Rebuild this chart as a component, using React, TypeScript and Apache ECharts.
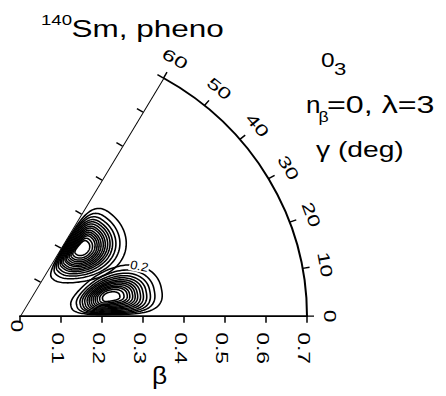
import { useEffect, useRef } from "react";
import * as echarts from "echarts";

const FONT = "'Liberation Sans', Arial, Helvetica, sans-serif";

// β (radius) axis
const betaTicks = [0, 0.1, 0.2, 0.3, 0.4, 0.5, 0.6, 0.7];
const betaTickLabels = ["0", "0.1", "0.2", "0.3", "0.4", "0.5", "0.6", "0.7"];
// γ (angle, degrees) axis
const gammaTicks = [0, 10, 20, 30, 40, 50, 60];
const gammaTickLabels = ["0", "10", "20", "30", "40", "50", "60"];
// β ticks along the γ = 60° edge
const edgeTicks = [0.1, 0.2, 0.3, 0.4, 0.5, 0.6, 0.7];

// contour levels, outermost ring first
const contourLevels = [0.2, 0.4, 0.6, 0.8, 1.0, 1.2, 1.4, 1.6, 1.8, 2.0, 2.2, 2.4, 2.6, 2.8];

// maximum near γ ≈ 12°: peak [β, γ] and each ring's β / γ extent
const lowPeak = [0.225, 12.4];
const lowBetaMin = [0.127, 0.141, 0.15, 0.156, 0.162, 0.168, 0.173, 0.178, 0.183, 0.188, 0.193, 0.199, 0.206];
const lowBetaMax = [0.352, 0.334, 0.323, 0.314, 0.306, 0.299, 0.292, 0.286, 0.28, 0.273, 0.267, 0.259, 0.249];
const lowGammaMin = [1.0, 1.6, 2.2, 2.8, 3.5, 4.2, 4.9, 5.6, 6.4, 7.2, 8.0, 8.9, 9.9];
const lowGammaMax = [29.0, 26.7, 25.2, 24.0, 23.0, 22.0, 21.2, 20.4, 19.5, 18.7, 17.9, 16.9, 15.6];

// maximum near γ ≈ 49°
const highPeak = [0.229, 48.9];
const highBetaMin = [0.124, 0.138, 0.147, 0.154, 0.161, 0.166, 0.171, 0.177, 0.181, 0.186, 0.191, 0.196, 0.202, 0.209];
const highBetaMax = [0.342, 0.327, 0.317, 0.309, 0.303, 0.297, 0.291, 0.286, 0.28, 0.275, 0.27, 0.265, 0.258, 0.251];
const highGammaMin = [27.0, 30.0, 31.8, 33.4, 34.7, 35.8, 36.9, 37.9, 38.9, 39.9, 40.9, 42.0, 43.2, 44.7];
const highGammaMax = [59.1, 58.5, 58.0, 57.4, 56.8, 56.2, 55.6, 55.0, 54.4, 53.8, 53.2, 52.6, 52.0, 51.4];

// which ring carries its level as a label, and where on the ring (degrees of its parameter)
const labelledRing = { side: -1, level: 0.2, at: 43 };

// side: -1 → the ring hugs the γ = 0 edge, +1 → it hugs the γ = 60° edge
function ringsOf(peak: number[], bMin: number[], bMax: number[], gMin: number[], gMax: number[], side: number) {
  return bMin.map((_, k) => [peak[0], peak[1], contourLevels[k], bMin[k], bMax[k], gMin[k], gMax[k], side]);
}

const ringData = [
  ...ringsOf(lowPeak, lowBetaMin, lowBetaMax, lowGammaMin, lowGammaMax, -1),
  ...ringsOf(highPeak, highBetaMin, highBetaMax, highGammaMin, highGammaMax, 1),
];

const SQUASH = 0.958;
const W = 446;
const H = Math.ceil(396 / SQUASH);

function ringPoint(d: number[], t: number) {
  const [b0, g0, , bLo, bHi, gLo, gHi, side] = d;
  const c = Math.cos(t);
  const s = Math.sin(t);
  const towardEdge = side < 0 ? s < 0 : s > 0;
  const e = towardEdge ? 0.62 : 1;
  const cc = Math.sign(c) * Math.pow(Math.abs(c), e);
  const ss = Math.sign(s) * Math.pow(Math.abs(s), e);
  const b = b0 + (c >= 0 ? bHi - b0 : b0 - bLo) * cc;
  const g = g0 + (s >= 0 ? gHi - g0 : g0 - gLo) * ss;
  return [b, g];
}

const label = (t: string, x: number, y: number, size: number, sx: number, align = "left") => ({
  type: "text",
  x,
  y,
  scaleX: sx,
  scaleY: 1,
  style: { text: t, fontSize: size, fontFamily: FONT, fill: "#000", align, verticalAlign: "middle" },
});

export default function App() {
  const ref = useRef<HTMLDivElement>(null);

  useEffect(() => {
    if (!ref.current) return;
    const chart = echarts.init(ref.current, null, { renderer: "svg" });

    chart.setOption({
      animation: false,
      polar: { center: [20, 330], radius: [0, 287] },
      angleAxis: {
        type: "value",
        min: 0,
        max: 60,
        interval: 10,
        startAngle: 0,
        endAngle: 60,
        clockwise: false,
        axisLine: { show: true, lineStyle: { color: "#000", width: 2 } },
        axisTick: { show: true, length: 7, lineStyle: { color: "#000", width: 1.5 } },
        axisLabel: { show: false },
        splitLine: { show: false },
      },
      radiusAxis: {
        type: "value",
        min: 0,
        max: 0.7,
        interval: 0.1,
        axisLine: { show: true, lineStyle: { color: "#000", width: 2 } },
        axisTick: { show: false },
        axisLabel: { show: false },
        splitLine: { show: false },
      },
      series: [
        {
          // titles and annotations
          type: "custom",
          coordinateSystem: "none",
          silent: true,
          data: [[0]],
          renderItem: () => ({
            type: "group",
            children: [
              label("140", 41, 21.4, 15.5, 1.2),
              label("Sm, pheno", 71.5, 29.8, 24.8, 1.27),
              label("0", 321, 62.6, 20.4, 1.2),
              label("3", 334, 72, 17, 1.3),
              label("n", 306, 109.4, 24.8, 1.05),
              label("β", 318.5, 121.5, 16, 1.1),
              label("=0, λ=3", 327, 109.1, 24.8, 1.3),
              label("γ (deg)", 316, 155.5, 23.5, 1.2),
              label("β", 159.5, 392.5, 24, 1.1, "center"),
            ],
          }),
        },
        {
          type: "line",
          coordinateSystem: "polar",
          data: [[0, 60], [0.7, 60]],
          symbol: "none",
          silent: true,
          lineStyle: { color: "#000", width: 2 },
        },
        {
          // ticks on the γ = 60° edge, pointing outwards
          type: "custom",
          coordinateSystem: "polar",
          silent: true,
          clip: false,
          data: edgeTicks.map((v) => [v, 60]),
          renderItem: (_params: any, api: any) => {
            const p = api.coord([api.value(0), 60]);
            const L = 7;
            return {
              type: "line",
              shape: { x1: p[0], y1: p[1], x2: p[0] - 0.866 * L, y2: p[1] - 0.5 * L },
              style: { stroke: "#000", lineWidth: 1.5 },
            };
          },
        },
        {
          // β ticks and labels below the γ = 0 edge
          type: "custom",
          coordinateSystem: "polar",
          silent: true,
          clip: false,
          data: betaTicks.map((v) => [v, 0]),
          renderItem: (params: any, api: any) => {
            const v = api.value(0);
            const p = api.coord([v, 0]);
            return {
              type: "group",
              children: [
                {
                  type: "line",
                  shape: { x1: p[0], y1: p[1], x2: p[0], y2: p[1] + 7 },
                  style: { stroke: "#000", lineWidth: 1.5 },
                },
                {
                  type: "text",
                  x: p[0] - 3,
                  y: p[1] + 16.7,
                  rotation: -Math.PI / 2,
                  scaleX: 1.45,
                  scaleY: 1,
                  style: {
                    text: betaTickLabels[params.dataIndex],
                    fontSize: 16.5,
                    fontFamily: FONT,
                    fill: "#000",
                    align: v === 0 ? "right" : "left",
                    verticalAlign: "middle",
                  },
                },
              ],
            };
          },
        },
        {
          type: "custom",
          coordinateSystem: "polar",
          silent: true,
          clip: false,
          data: ringData,
          renderItem: (params: any, api: any) => {
            const d = ringData[params.dataIndex];
            const N = 120;
            const pts = [];
            for (let i = 0; i < N; i++) {
              pts.push(api.coord(ringPoint(d, (i / N) * Math.PI * 2)));
            }
            const children: any[] = [
              {
                type: "polygon",
                shape: { points: pts },
                style: { fill: "none", stroke: "#000", lineWidth: 1.6 },
              },
            ];
            if (d[7] === labelledRing.side && d[2] === labelledRing.level) {
              const p = api.coord(ringPoint(d, (labelledRing.at * Math.PI) / 180));
              children.push({
                type: "text",
                x: p[0],
                y: p[1],
                rotation: (-12 * Math.PI) / 180,
                z2: 10,
                style: {
                  text: String(d[2]),
                  fontSize: 13,
                  fontFamily: FONT,
                  fill: "#000",
                  align: "center",
                  verticalAlign: "middle",
                  backgroundColor: "#fff",
                  padding: [0, 1],
                },
              });
            }
            return { type: "group", children };
          },
        },
        {
          // γ labels around the arc, along its tangent
          type: "custom",
          coordinateSystem: "polar",
          silent: true,
          clip: false,
          data: gammaTicks.map((g) => [0.7, g]),
          renderItem: (params: any, api: any) => {
            const g = api.value(1);
            const p = api.coord([0.7, g]);
            const a = (g * Math.PI) / 180;
            const off = 23;
            return {
              type: "text",
              x: p[0] + off * Math.cos(a),
              y: p[1] - off * Math.sin(a),
              rotation: ((g - 90) * Math.PI) / 180,
              scaleX: 1.45,
              scaleY: 1,
              style: {
                text: gammaTickLabels[params.dataIndex],
                fontSize: 16.5,
                fontFamily: FONT,
                fill: "#000",
                align: "center",
                verticalAlign: "middle",
              },
            };
          },
        },
      ],
    });

    return () => chart.dispose();
  }, []);

  return (
    <div style={{ position: "fixed", left: 0, top: 0, width: W, height: 396, overflow: "hidden", background: "#fff" }}>
      <div
        ref={ref}
        style={{ width: W, height: H, transform: `scaleY(${SQUASH})`, transformOrigin: "0 0" }}
      />
    </div>
  );
}
